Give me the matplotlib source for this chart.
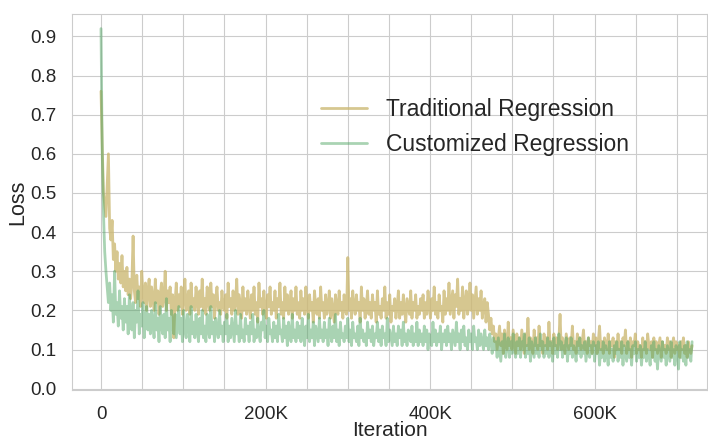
import numpy as np
import matplotlib
matplotlib.use("Agg")
import matplotlib.pyplot as plt
import seaborn as sns

# loss, one value every 1.5K iterations (0 .. 718.5K)
step = 1500
traditional = [
    0.76, 0.62, 0.50, 0.47, 0.44, 0.52, 0.60, 0.41, 0.38, 0.43, 0.33, 0.37, 0.30, 0.35, 0.28, 0.32, 0.27, 0.34, 0.26, 0.30,
    0.25, 0.31, 0.24, 0.28, 0.23, 0.27, 0.39, 0.25, 0.22, 0.29, 0.23, 0.26, 0.21, 0.30, 0.24, 0.22, 0.27, 0.20, 0.25, 0.28,
    0.21, 0.26, 0.23, 0.20, 0.28, 0.22, 0.25, 0.19, 0.24, 0.27, 0.21, 0.23, 0.30, 0.20, 0.25, 0.22, 0.26, 0.19, 0.24, 0.13,
    0.22, 0.27, 0.20, 0.24, 0.21, 0.26, 0.19, 0.23, 0.28, 0.20, 0.22, 0.25, 0.19, 0.27, 0.21, 0.23, 0.20, 0.26, 0.22, 0.19,
    0.25, 0.21, 0.28, 0.20, 0.23, 0.19, 0.26, 0.22, 0.20, 0.27, 0.21, 0.24, 0.18, 0.23, 0.26, 0.20, 0.22, 0.19, 0.25, 0.21,
    0.20, 0.24, 0.18, 0.27, 0.21, 0.23, 0.19, 0.25, 0.20, 0.22, 0.28, 0.19, 0.24, 0.21, 0.18, 0.26, 0.20, 0.23, 0.19, 0.25,
    0.21, 0.18, 0.24, 0.20, 0.26, 0.19, 0.22, 0.17, 0.27, 0.21, 0.23, 0.19, 0.25, 0.20, 0.18, 0.24, 0.21, 0.26, 0.19, 0.22,
    0.20, 0.25, 0.18, 0.23, 0.21, 0.27, 0.19, 0.22, 0.18, 0.26, 0.20, 0.24, 0.19, 0.21, 0.25, 0.18, 0.23, 0.20, 0.26, 0.19,
    0.22, 0.18, 0.25, 0.20, 0.23, 0.19, 0.26, 0.21, 0.18, 0.24, 0.20, 0.22, 0.17, 0.25, 0.21, 0.19, 0.23, 0.18, 0.26, 0.20,
    0.22, 0.18, 0.24, 0.19, 0.21, 0.25, 0.18, 0.23, 0.20, 0.17, 0.24, 0.21, 0.19, 0.25, 0.20, 0.22, 0.18, 0.24, 0.20, 0.19,
    0.335, 0.20, 0.23, 0.18, 0.25, 0.21, 0.19, 0.24, 0.20, 0.22, 0.17, 0.26, 0.20, 0.23, 0.18, 0.21, 0.25, 0.19, 0.22, 0.18,
    0.24, 0.20, 0.22, 0.17, 0.25, 0.19, 0.21, 0.18, 0.23, 0.20, 0.26, 0.18, 0.22, 0.19, 0.24, 0.17, 0.21, 0.20, 0.23, 0.18,
    0.21, 0.25, 0.18, 0.22, 0.19, 0.24, 0.20, 0.17, 0.23, 0.21, 0.19, 0.25, 0.18, 0.22, 0.20, 0.24, 0.18, 0.21, 0.19, 0.23,
    0.20, 0.24, 0.18, 0.22, 0.19, 0.25, 0.21, 0.18, 0.23, 0.20, 0.26, 0.19, 0.22, 0.18, 0.24, 0.20, 0.21, 0.17, 0.25, 0.19,
    0.23, 0.20, 0.27, 0.19, 0.22, 0.25, 0.18, 0.24, 0.21, 0.28, 0.19, 0.23, 0.20, 0.26, 0.18, 0.22, 0.25, 0.19, 0.21, 0.27,
    0.20, 0.24, 0.18, 0.22, 0.26, 0.19, 0.23, 0.20, 0.25, 0.18, 0.21, 0.23, 0.17, 0.22, 0.19, 0.15, 0.18, 0.14, 0.16, 0.12,
    0.14, 0.10, 0.13, 0.16, 0.11, 0.14, 0.09, 0.15, 0.12, 0.10, 0.17, 0.11, 0.13, 0.10, 0.15, 0.12, 0.09, 0.14, 0.11, 0.13,
    0.10, 0.15, 0.12, 0.09, 0.14, 0.11, 0.18, 0.10, 0.13, 0.12, 0.09, 0.15, 0.11, 0.13, 0.10, 0.16, 0.11, 0.12, 0.09, 0.14,
    0.11, 0.13, 0.10, 0.17, 0.11, 0.12, 0.09, 0.14, 0.11, 0.13, 0.10, 0.12, 0.19, 0.10, 0.13, 0.11, 0.09, 0.14, 0.12, 0.10,
    0.13, 0.11, 0.16, 0.10, 0.12, 0.09, 0.14, 0.11, 0.13, 0.10, 0.12, 0.15, 0.10, 0.12, 0.09, 0.13, 0.11, 0.12, 0.09, 0.14,
    0.11, 0.13, 0.09, 0.12, 0.16, 0.10, 0.12, 0.09, 0.13, 0.11, 0.10, 0.14, 0.09, 0.12, 0.11, 0.13, 0.08, 0.12, 0.10, 0.14,
    0.10, 0.12, 0.09, 0.13, 0.11, 0.15, 0.09, 0.12, 0.10, 0.13, 0.08, 0.12, 0.11, 0.14, 0.09, 0.12, 0.10, 0.11, 0.08, 0.13,
    0.10, 0.12, 0.09, 0.14, 0.11, 0.10, 0.12, 0.08, 0.13, 0.10, 0.12, 0.09, 0.11, 0.13, 0.08, 0.12, 0.10, 0.11, 0.09, 0.13,
    0.10, 0.12, 0.08, 0.11, 0.13, 0.09, 0.12, 0.10, 0.11, 0.08, 0.12, 0.10, 0.13, 0.09, 0.11, 0.08, 0.12, 0.10, 0.09, 0.11,
]
customized = [
    0.92, 0.60, 0.45, 0.35, 0.30, 0.26, 0.22, 0.27, 0.20, 0.24, 0.17, 0.30, 0.19, 0.22, 0.16, 0.25, 0.18, 0.21, 0.15, 0.23,
    0.17, 0.21, 0.14, 0.24, 0.18, 0.15, 0.22, 0.13, 0.20, 0.17, 0.25, 0.14, 0.19, 0.16, 0.22, 0.13, 0.18, 0.21, 0.15, 0.19,
    0.14, 0.20, 0.17, 0.13, 0.22, 0.15, 0.18, 0.12, 0.21, 0.16, 0.14, 0.19, 0.13, 0.23, 0.15, 0.18, 0.12, 0.20, 0.16, 0.14,
    0.19, 0.13, 0.17, 0.21, 0.14, 0.18, 0.12, 0.20, 0.15, 0.13, 0.19, 0.16, 0.12, 0.21, 0.14, 0.17, 0.13, 0.19, 0.15, 0.12,
    0.18, 0.14, 0.20, 0.13, 0.16, 0.12, 0.19, 0.15, 0.13, 0.21, 0.14, 0.17, 0.12, 0.18, 0.15, 0.13, 0.20, 0.14, 0.16, 0.12,
    0.17, 0.14, 0.19, 0.12, 0.16, 0.13, 0.18, 0.15, 0.12, 0.20, 0.14, 0.16, 0.12, 0.19, 0.13, 0.15, 0.12, 0.18, 0.14, 0.16,
    0.12, 0.17, 0.14, 0.19, 0.12, 0.15, 0.13, 0.18, 0.14, 0.12, 0.17, 0.15, 0.20, 0.13, 0.16, 0.12, 0.18, 0.14, 0.15, 0.12,
    0.17, 0.13, 0.16, 0.12, 0.19, 0.14, 0.15, 0.12, 0.18, 0.13, 0.16, 0.11, 0.17, 0.14, 0.12, 0.19, 0.13, 0.15, 0.12, 0.17,
    0.13, 0.16, 0.12, 0.18, 0.14, 0.11, 0.16, 0.13, 0.19, 0.12, 0.15, 0.13, 0.17, 0.11, 0.16, 0.14, 0.12, 0.18, 0.13, 0.15,
    0.12, 0.17, 0.13, 0.15, 0.11, 0.18, 0.14, 0.12, 0.16, 0.13, 0.19, 0.12, 0.15, 0.11, 0.17, 0.13, 0.14, 0.12, 0.16, 0.13,
    0.18, 0.12, 0.15, 0.11, 0.17, 0.13, 0.14, 0.12, 0.16, 0.11, 0.18, 0.13, 0.15, 0.12, 0.14, 0.11, 0.17, 0.13, 0.15, 0.12,
    0.16, 0.11, 0.14, 0.13, 0.17, 0.12, 0.15, 0.11, 0.16, 0.13, 0.14, 0.11, 0.18, 0.12, 0.15, 0.13, 0.11, 0.16, 0.12, 0.14,
    0.11, 0.16, 0.13, 0.15, 0.11, 0.17, 0.12, 0.14, 0.11, 0.15, 0.13, 0.12, 0.16, 0.11, 0.14, 0.12, 0.17, 0.11, 0.15, 0.12,
    0.14, 0.11, 0.16, 0.12, 0.15, 0.10, 0.14, 0.13, 0.11, 0.17, 0.12, 0.15, 0.11, 0.14, 0.12, 0.16, 0.10, 0.14, 0.12, 0.15,
    0.11, 0.16, 0.12, 0.14, 0.10, 0.15, 0.13, 0.11, 0.17, 0.12, 0.14, 0.10, 0.15, 0.12, 0.16, 0.11, 0.13, 0.10, 0.15, 0.12,
    0.14, 0.10, 0.16, 0.12, 0.13, 0.10, 0.15, 0.11, 0.14, 0.12, 0.10, 0.15, 0.11, 0.13, 0.10, 0.14, 0.12, 0.09, 0.13, 0.10,
    0.12, 0.08, 0.13, 0.10, 0.07, 0.12, 0.09, 0.14, 0.08, 0.11, 0.13, 0.08, 0.12, 0.09, 0.14, 0.10, 0.08, 0.12, 0.09, 0.13,
    0.08, 0.12, 0.10, 0.14, 0.08, 0.11, 0.09, 0.13, 0.07, 0.12, 0.10, 0.08, 0.13, 0.09, 0.11, 0.08, 0.14, 0.10, 0.12, 0.08,
    0.11, 0.09, 0.13, 0.08, 0.12, 0.10, 0.07, 0.13, 0.09, 0.11, 0.08, 0.14, 0.10, 0.12, 0.08, 0.11, 0.09, 0.13, 0.07, 0.11,
    0.09, 0.13, 0.08, 0.11, 0.10, 0.07, 0.12, 0.09, 0.13, 0.08, 0.11, 0.09, 0.12, 0.07, 0.10, 0.13, 0.08, 0.11, 0.09, 0.12,
    0.07, 0.11, 0.09, 0.12, 0.06, 0.10, 0.08, 0.12, 0.07, 0.11, 0.09, 0.06, 0.12, 0.08, 0.10, 0.07, 0.11, 0.09, 0.12, 0.07,
    0.10, 0.08, 0.12, 0.06, 0.11, 0.09, 0.07, 0.12, 0.08, 0.10, 0.06, 0.11, 0.09, 0.12, 0.07, 0.10, 0.08, 0.11, 0.06, 0.10,
    0.08, 0.12, 0.07, 0.10, 0.09, 0.06, 0.11, 0.08, 0.12, 0.07, 0.10, 0.05, 0.11, 0.09, 0.07, 0.12, 0.08, 0.10, 0.06, 0.11,
    0.09, 0.07, 0.12, 0.08, 0.10, 0.06, 0.11, 0.09, 0.05, 0.12, 0.08, 0.10, 0.07, 0.11, 0.06, 0.12, 0.08, 0.10, 0.07, 0.12,
]
xtick_vals = [0, 200000, 400000, 600000]
xtick_text = ["0", "200K", "400K", "600K"]

sns.set_style("whitegrid")
plt.rcParams['font.family'] = ['Liberation Sans', 'DejaVu Sans']

iters = np.arange(len(traditional)) * step

fig, ax = plt.subplots(figsize=(7.08, 4.42), dpi=100)
fig.subplots_adjust(left=0.102, right=0.999, top=0.968, bottom=0.118)

ax.plot(iters, traditional, color='#CCB974', alpha=0.8, lw=2.0, label='Traditional Regression')
ax.plot(iters, customized, color='#55A868', alpha=0.5, lw=2.0, label='Customized Regression')

ax.set_xlim(-35000, 737000)
ax.set_ylim(-0.003, 0.957)
ax.set_yticks(np.arange(0, 1.0, 0.1))
ax.set_yticklabels(["%.1f" % v for v in np.arange(0, 1.0, 0.1)])
# grid every 50K, labels only every 200K
grid_x = np.arange(0, 737000, 50000)
ax.set_xticks(grid_x)
ax.set_xticklabels([xtick_text[xtick_vals.index(v)] if v in xtick_vals else "" for v in grid_x])
ax.tick_params(labelsize=13.5, pad=8, colors='#262626')
ax.set_xlabel('Iteration', fontsize=15, labelpad=-1, color='#262626')
ax.set_ylabel('Loss', fontsize=15.5, labelpad=1, color='#262626')

ax.legend(loc='center left', bbox_to_anchor=(0.378, 0.70), borderaxespad=0,
          frameon=False, fontsize=16.5)

fig.savefig('out.png', dpi=100)
